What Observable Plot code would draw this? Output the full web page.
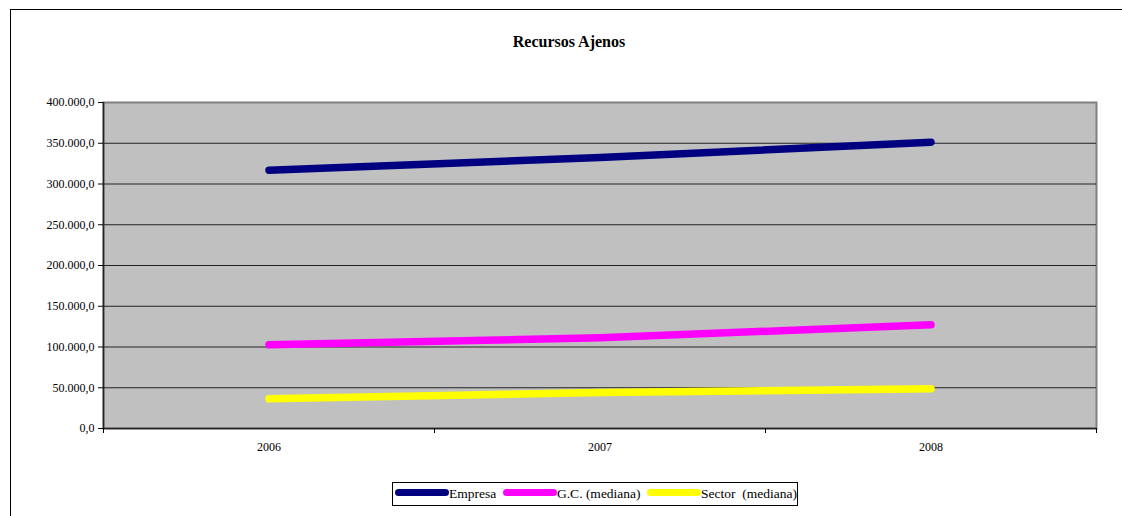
<!DOCTYPE html>
<html>
<head>
<meta charset="utf-8">
<script src="https://cdn.jsdelivr.net/npm/d3@7"></script>
<script src="https://cdn.jsdelivr.net/npm/@observablehq/plot@0.6"></script>
<style>
  html, body { margin: 0; padding: 0; background: #fff; }
  #wrap { position: relative; width: 1122px; height: 516px; overflow: hidden; font-family: "Liberation Serif", "Times New Roman", serif; color: #000; }
  #frame { position: absolute; left: 10px; top: 9px; width: 1130px; height: 540px; border: 1px solid #000; box-sizing: border-box; }
  #title { position: absolute; left: 0; width: 1138px; top: 33px; text-align: center; font-weight: bold; font-size: 16px; }
  #chart { position: absolute; left: 0; top: 80px; }
  #legend { position: absolute; left: 392px; top: 482px; width: 406px; height: 24px; border: 1px solid #000; box-sizing: border-box; }
  .sw { position: absolute; height: 7px; border-radius: 4px; top: 6px; }
  .lt { position: absolute; top: 3px; font-size: 13.5px; white-space: pre; line-height: 16px; }
</style>
</head>
<body>
<div id="wrap">
  <div id="frame"></div>
  <div id="title"></div>
  <div id="chart"></div>
  <div id="legend"></div>
</div>
<script>
const title = "Recursos Ajenos";
const years = ["2006", "2007", "2008"];
const seriesNames = ["Empresa", "G.C. (mediana)", "Sector  (mediana)"];
const seriesColors = ["#000080", "#ff00ff", "#ffff00"];
const empresa = [317000, 332500, 351300];
const gcMediana = [102700, 111300, 127200];
const sectorMediana = [36400, 44200, 48700];
const yTicks = [0, 50000, 100000, 150000, 200000, 250000, 300000, 350000, 400000];

const seriesValues = [empresa, gcMediana, sectorMediana];
const data = [];
seriesNames.forEach((name, i) => {
  years.forEach((yr, j) => data.push({series: name, year: +yr, value: seriesValues[i][j]}));
});

const esLocale = d3.formatLocale({decimal: ",", thousands: ".", grouping: [3], currency: ["", " €"]});
const fmt = esLocale.format(",.1f");

const yearNums = years.map(Number);
const xDomain = [yearNums[0] - 0.5, yearNums[yearNums.length - 1] + 0.5];
const bounds = d3.range(xDomain[0], xDomain[1] + 0.01, 1);

document.getElementById("title").textContent = title;

const chart = Plot.plot({
  width: 1122,
  height: 380,
  marginLeft: 103,
  marginRight: 26,
  marginTop: 22,
  marginBottom: 32,
  style: {fontFamily: "'Liberation Serif', 'Times New Roman', serif", fontSize: "12px", background: "transparent", color: "#000", overflow: "visible"},
  x: {type: "linear", domain: xDomain},
  y: {domain: [0, 400000]},
  color: {domain: seriesNames, range: seriesColors},
  marks: [
    Plot.frame({fill: "#c0c0c0", stroke: "#808080", strokeWidth: 2}),
    Plot.gridY(yTicks.filter(d => d > 0 && d < 400000), {stroke: "#222", strokeOpacity: 1, strokeWidth: 1}),
    Plot.ruleX([xDomain[0]], {stroke: "#222", strokeWidth: 1.5}),
    Plot.ruleY([0], {stroke: "#222", strokeWidth: 1.5}),
    Plot.axisY({ticks: yTicks, tickSize: 5, tickPadding: 4, tickFormat: fmt, label: null, stroke: "#000", fontSize: 12}),
    Plot.axisX({ticks: bounds, tickSize: 5, tickFormat: () => "", label: null, stroke: "#000"}),
    Plot.axisX({ticks: yearNums, tickSize: 0, tickPadding: 14, tickFormat: d => String(d), label: null, fontSize: 12}),
    Plot.line(data, {x: "year", y: "value", z: "series", stroke: "series", strokeWidth: 7.5, strokeLinecap: "round", strokeLinejoin: "round"})
  ]
});
document.getElementById("chart").appendChild(chart);

// Legend
const legend = document.getElementById("legend");
const swX = [2, 110, 254];
const txX = [56, 164, 308];
seriesNames.forEach((name, i) => {
  const sw = document.createElement("div");
  sw.className = "sw";
  sw.style.left = swX[i] + "px";
  sw.style.width = "54px";
  sw.style.background = seriesColors[i];
  legend.appendChild(sw);
  const t = document.createElement("div");
  t.className = "lt";
  t.style.left = txX[i] + "px";
  t.textContent = name;
  legend.appendChild(t);
});
</script>
</body>
</html>
